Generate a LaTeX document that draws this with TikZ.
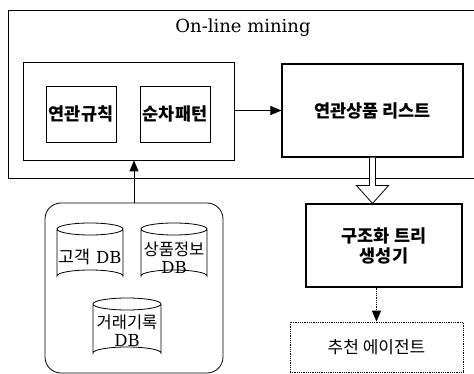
\documentclass[tikz,border=0pt]{standalone}
\usepackage{fontspec}
\setmainfont{DejaVu Serif}
\newfontfamily\kr{Noto Sans CJK KR}
\usetikzlibrary{arrows.meta,calc}
\tikzset{
  frame/.style={draw, line width=0.8pt},
  boldbox/.style={draw, line width=1.1pt, font=\kr\bfseries\fontsize{17.5}{20}\selectfont, align=center},
  inbox/.style={draw, line width=0.9pt, font=\kr\bfseries\fontsize{17.5}{20}\selectfont, align=center},
  dbtext/.style={font=\fontsize{16.5}{17}\selectfont, align=center, inner sep=0pt},
  arr/.style={-{Triangle[length=11pt,width=9pt]}, line width=0.8pt},
  cyl/.style={draw, line width=0.8pt}
}
\begin{document}
\begin{tikzpicture}[x=1pt,y=-1pt]
\useasboundingbox (0,0) rectangle (474,374);
% outer On-line mining frame
\draw[frame] (480,10) -- (8,10) -- (8,178) -- (480,178);
\node[font=\fontsize{18}{20}\selectfont] (title) at (243,28) {On-line mining};
% left inner box
\node[frame, minimum width=211pt, minimum height=98pt, inner sep=0pt] (left) at (128.5,111) {};
\node[inbox, minimum width=70pt, minimum height=56pt, inner sep=0pt] (rule) at (81,114) {연관규칙};
\node[inbox, minimum width=70pt, minimum height=56pt, inner sep=0pt] (seq) at (175,114) {순차패턴};
% list box
\node[boldbox, minimum width=181pt, minimum height=93pt, inner sep=0pt] (list) at (372.5,110.5) {연관상품 리스트};
% tree generator
\node[boldbox, minimum width=156pt, minimum height=83pt, inner sep=0pt] (tree) at (384,245.5) {구조화 트리\\생성기};
% agent
\node[draw, densely dotted, line width=0.8pt, minimum width=173pt, minimum height=50pt, inner sep=0pt, font=\kr\fontsize{17}{18}\selectfont] (agent) at (376.5,347) {추천 에이전트};
% DB group
\node[draw, line width=0.8pt, rounded corners=16pt, minimum width=178pt, minimum height=170pt, inner sep=0pt] (db) at (134,288) {};
% cylinders
\draw[cyl] (57,229) -- (57,276) arc[start angle=180,end angle=360,x radius=33,y radius=6] -- (123,229)
  (90,229) ellipse[x radius=33,y radius=6];
\draw[cyl] (141,229) -- (141,276) arc[start angle=180,end angle=360,x radius=33,y radius=6] -- (207,229)
  (174,229) ellipse[x radius=33,y radius=6];
\draw[cyl] (93,304) -- (93,353) arc[start angle=180,end angle=360,x radius=34,y radius=6] -- (161,304)
  (127,304) ellipse[x radius=34,y radius=6];
\node[dbtext] (cust) at (90,257) {{\kr\fontsize{17.5}{18}\selectfont 고객} DB};
\node[dbtext] (prod) at (174,258) {{\kr 상품정보}\\[1pt]DB};
\node[dbtext] (trans) at (127,331) {{\kr 거래기록}\\[1pt]DB};
% connectors
\draw[arr] (db.north) -- (db.north |- left.south);
\draw[arr] (left.east |- list.west) -- (list.west);
\draw[line width=0.8pt, fill=white]
  ($(list.south)+(-3,0)$) -- ($(list.south)+(-3,28)$) -- ($(list.south)+(-16,28)$)
  -- (list.south |- tree.north) -- ($(list.south)+(16,28)$) -- ($(list.south)+(3,28)$)
  -- ($(list.south)+(3,0)$);
\draw[densely dotted, line width=0.8pt, -{Triangle[length=11pt,width=9pt]}] (tree.south -| agent.north) -- (agent.north);
\end{tikzpicture}
\end{document}
